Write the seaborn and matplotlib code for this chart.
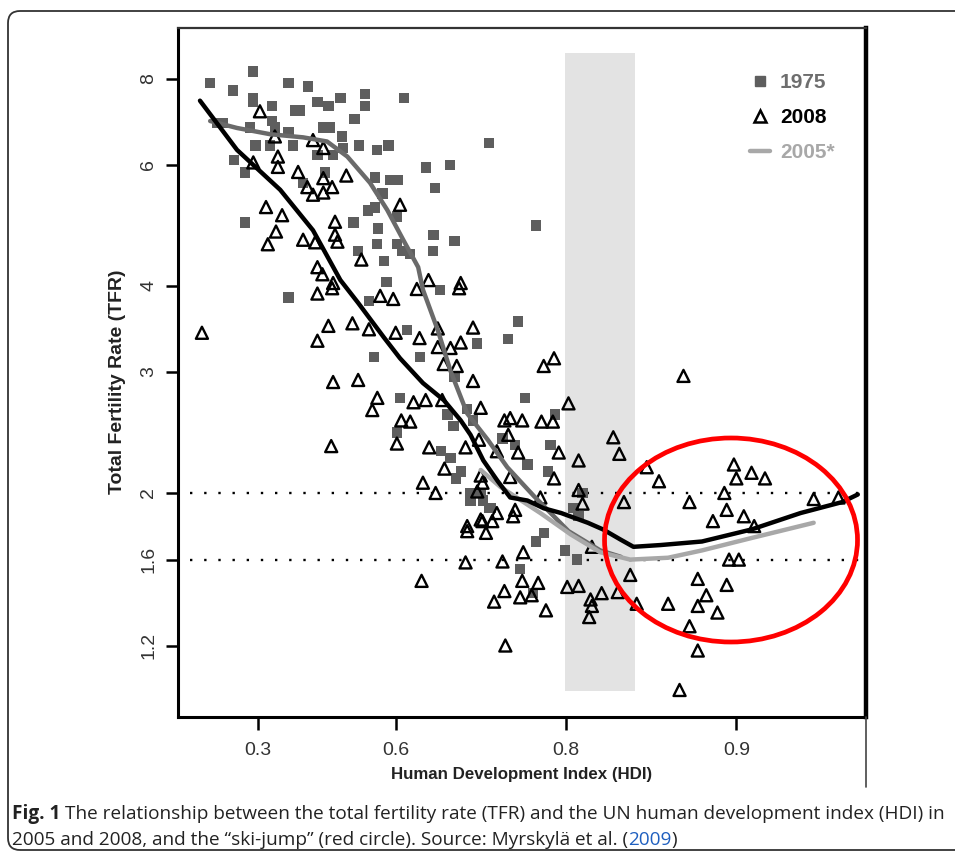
import numpy as np
import matplotlib
matplotlib.use('Agg')
import matplotlib.pyplot as plt
import seaborn as sns
from matplotlib.patches import Ellipse, FancyBboxPatch
from matplotlib.lines import Line2D
from matplotlib.transforms import IdentityTransform
from matplotlib.ticker import NullLocator

# 1975 countries (squares)
hdi_1975 = [0.286, 0.149, 0.225, 0.381, 0.429, 0.286, 0.286, 0.338, 0.450, 0.474,
            0.499, 0.547, 0.547, 0.613, 0.527, 0.398, 0.410, 0.463, 0.478, 0.173,
            0.193, 0.277, 0.338, 0.346, 0.381, 0.503, 0.505, 0.536, 0.569, 0.588,
            0.292, 0.333, 0.393, 0.450, 0.484, 0.228, 0.262, 0.467, 0.417, 0.565,
            0.591, 0.604, 0.578, 0.565, 0.552, 0.602, 0.525, 0.570, 0.262, 0.569,
            0.602, 0.610, 0.623, 0.534, 0.580, 0.585, 0.381, 0.726, 0.646, 0.679,
            0.659, 0.774, 0.657, 0.685, 0.656, 0.666, 0.554, 0.618, 0.563, 0.607,
            0.602, 0.638, 0.757, 0.747, 0.713, 0.685, 0.764, 0.701, 0.676, 0.708,
            0.791, 0.684, 0.787, 0.754, 0.667, 0.680, 0.766, 0.693, 0.741, 0.785,
            0.687, 0.705, 0.717, 0.720, 0.728, 0.806, 0.813, 0.810, 0.705, 0.726,
            0.781, 0.774, 0.799, 0.809, 0.759, 0.771]
tfr_1975 = [8.2, 7.9, 7.7, 7.9, 7.8, 7.5, 7.4, 7.3, 7.4, 7.3,
            7.5, 7.6, 7.3, 7.5, 7.0, 7.2, 7.2, 6.8, 6.8, 6.9,
            6.9, 6.8, 6.95, 6.8, 6.7, 6.6, 6.35, 6.4, 6.3, 6.4,
            6.4, 6.4, 6.4, 6.2, 6.2, 6.1, 5.85, 5.85, 5.65, 5.75,
            5.7, 5.7, 5.45, 5.2, 5.15, 5.05, 4.95, 4.85, 4.95, 4.6,
            4.6, 4.5, 4.45, 4.5, 4.35, 4.05, 3.85, 6.45, 5.95, 6.0,
            5.55, 4.9, 4.75, 4.65, 4.5, 3.95, 3.8, 3.45, 3.15, 2.75,
            2.45, 3.15, 3.55, 3.35, 3.3, 2.95, 2.75, 2.65, 2.6, 2.55,
            2.6, 2.5, 2.35, 2.35, 2.3, 2.25, 2.2, 2.15, 2.4, 2.15,
            2.1, 2.0, 2.0, 1.95, 1.9, 1.9, 2.0, 1.85, 1.95, 1.9,
            1.75, 1.7, 1.65, 1.6, 1.55, 1.43]

# 2008 countries (triangles)
hdi_2008 = [0.305, 0.346, 0.440, 0.463, 0.354, 0.286, 0.354, 0.405, 0.463, 0.511,
            0.427, 0.482, 0.440, 0.463, 0.607, 0.322, 0.365, 0.488, 0.349, 0.417,
            0.445, 0.488, 0.493, 0.327, 0.540, 0.450, 0.461, 0.484, 0.482, 0.450,
            0.574, 0.596, 0.633, 0.120, 0.474, 0.523, 0.554, 0.600, 0.450, 0.637,
            0.484, 0.534, 0.569, 0.560, 0.628, 0.609, 0.623, 0.480, 0.602, 0.650,
            0.691, 0.693, 0.663, 0.708, 0.663, 0.680, 0.693, 0.671, 0.688, 0.708,
            0.781, 0.790, 0.646, 0.669, 0.717, 0.802, 0.743, 0.749, 0.761, 0.779,
            0.789, 0.747, 0.651, 0.699, 0.715, 0.835, 0.757, 0.794, 0.810, 0.839,
            0.735, 0.672, 0.717, 0.749, 0.642, 0.660, 0.790, 0.713, 0.719, 0.810,
            0.813, 0.842, 0.778, 0.735, 0.754, 0.717, 0.730, 0.701, 0.719, 0.752,
            0.701, 0.723, 0.762, 0.820, 0.699, 0.741, 0.761, 0.776, 0.640, 0.743,
            0.770, 0.732, 0.759, 0.783, 0.801, 0.810, 0.819, 0.820, 0.818, 0.827,
            0.838, 0.846, 0.850, 0.744, 0.876, 0.856, 0.863, 0.879, 0.895, 0.899,
            0.900, 0.906, 0.911, 0.896, 0.903, 0.890, 0.907, 0.927, 0.934, 0.897,
            0.901, 0.883, 0.896, 0.868, 0.883, 0.887, 0.892, 0.879, 0.883, 0.874]
tfr_2008 = [7.18, 6.60, 6.52, 6.35, 6.17, 6.05, 5.96, 5.86, 5.74, 5.79,
            5.57, 5.57, 5.43, 5.47, 5.25, 5.21, 5.07, 4.96, 4.80, 4.67,
            4.63, 4.75, 4.64, 4.60, 4.37, 4.26, 4.16, 4.04, 3.97, 3.90,
            3.87, 3.83, 3.96, 3.42, 3.50, 3.53, 3.46, 3.42, 3.33, 3.36,
            2.90, 2.92, 2.75, 2.64, 2.71, 2.55, 2.54, 2.34, 2.36, 4.08,
            3.97, 4.04, 3.47, 3.48, 3.26, 3.25, 3.31, 3.08, 3.06, 2.91,
            3.06, 3.14, 2.73, 2.73, 2.66, 2.70, 2.55, 2.57, 2.55, 2.54,
            2.54, 2.43, 2.33, 2.33, 2.39, 2.41, 2.29, 2.29, 2.23, 2.28,
            2.30, 2.17, 2.12, 2.11, 2.07, 2.00, 2.10, 2.01, 2.07, 2.02,
            1.93, 1.94, 1.97, 1.87, 1.89, 1.83, 1.82, 1.79, 1.82, 1.85,
            1.76, 1.75, 1.64, 1.67, 1.585, 1.59, 1.49, 1.48, 1.49, 1.44,
            1.42, 1.39, 1.41, 1.35, 1.46, 1.465, 1.40, 1.37, 1.32, 1.43,
            1.435, 1.52, 1.38, 1.20, 2.96, 2.18, 2.08, 1.94, 2.00, 2.20,
            2.10, 2.14, 2.10, 1.89, 1.85, 1.82, 1.79, 1.96, 1.97, 1.60,
            1.60, 1.50, 1.47, 1.38, 1.37, 1.42, 1.34, 1.28, 1.18, 1.034]

# smoothed curves
fit_hdi_2008 = [0.113, 0.237, 0.360, 0.440, 0.499, 0.534, 0.580, 0.607, 0.642, 0.671,
                0.693, 0.705, 0.720, 0.736, 0.749, 0.766, 0.781, 0.796, 0.817, 0.828,
                0.840, 0.848, 0.864, 0.885, 0.906, 0.923, 0.935, 0.939]
fit_tfr_2008 = [7.44, 6.31, 5.52, 4.82, 4.08, 3.78, 3.37, 3.14, 2.89, 2.73,
                2.55, 2.43, 2.23, 2.08, 1.97, 1.95, 1.90, 1.87, 1.81, 1.77,
                1.71, 1.67, 1.68, 1.70, 1.77, 1.87, 1.94, 1.99]
fit_hdi_1975 = [0.149, 0.237, 0.333, 0.417, 0.471, 0.513, 0.556, 0.586, 0.612, 0.635,
                0.642, 0.663, 0.680, 0.701, 0.725, 0.746, 0.772, 0.802, 0.826, 0.840]
fit_tfr_1975 = [6.95, 6.79, 6.65, 6.58, 6.49, 6.17, 5.65, 5.16, 4.67, 4.26,
                3.95, 3.45, 3.01, 2.61, 2.39, 2.18, 1.98, 1.76, 1.65, 1.615]
fit_hdi_2005 = [0.717, 0.739, 0.778, 0.804, 0.826, 0.846, 0.868, 0.885, 0.906, 0.927]
fit_tfr_2005 = [2.16, 2.04, 1.87, 1.74, 1.64, 1.60, 1.61, 1.65, 1.72, 1.81]

y_ticks = [1.2, 1.6, 2, 3, 4, 6, 8]
y_tick_labels = ['1.2', '1.6', '2', '3', '4', '6', '8']
x_ticks = [0.3, 0.6, 0.8, 0.9]
x_tick_labels = ['0.3', '0.6', '0.8', '0.9']

sns.set_style('ticks')
plt.rcParams['font.family'] = ['Liberation Sans', 'DejaVu Sans']

W, H = 955, 857
fig = plt.figure(figsize=(W / 100, H / 100), dpi=100)
ax = fig.add_axes([178 / W, 1 - 717 / H, 688 / W, 689 / H])


def fwd(h):
    return -np.log(1 - np.clip(h, -10, 0.9999))


def inv(t):
    return 1 - np.exp(-t)


ax.set_xscale('function', functions=(fwd, inv))
ax.set_yscale('log')
ax.set_xlim(0.030, 0.941)
ax.set_ylim(0.9445, 9.49)

ax.axvspan(0.799, 0.849, ymin=0.038, ymax=0.964, color='#e3e3e3', lw=0, zorder=0)
for lvl in [2, 1.6]:
    ax.axhline(lvl, xmin=0.017, xmax=0.995, color='black', lw=1.7,
               ls=(0, (1, 5)), zorder=1)

sns.scatterplot(x=hdi_1975, y=tfr_1975, marker='s', s=55, color='#5e5e5e',
                edgecolor='none', ax=ax, zorder=3)
sns.scatterplot(x=hdi_2008, y=tfr_2008, marker='^', s=75, facecolor='none',
                edgecolor='black', linewidth=1.7, ax=ax, zorder=4)

sns.lineplot(x=fit_hdi_1975, y=fit_tfr_1975, sort=False, estimator=None,
             color='#6a6a6a', lw=3.2, ax=ax, zorder=5)
sns.lineplot(x=fit_hdi_2005, y=fit_tfr_2005, sort=False, estimator=None,
             color='#a8a8a8', lw=3.2, ax=ax, zorder=5)
sns.lineplot(x=fit_hdi_2008, y=fit_tfr_2008, sort=False, estimator=None,
             color='black', lw=3.2, ax=ax, zorder=6)

ax.add_patch(Ellipse((0.8038, 0.2569), 0.3677, 0.2961, transform=ax.transAxes,
                     fill=False, ec='#ff0000', lw=3.4, zorder=7))

ax.set_xticks(x_ticks)
ax.set_xticklabels(x_tick_labels, fontsize=14, color='#333333')
ax.set_yticks(y_ticks)
ax.set_yticklabels(y_tick_labels, fontsize=14, color='#333333', rotation=90, va='center')
ax.xaxis.set_minor_locator(NullLocator())
ax.yaxis.set_minor_locator(NullLocator())
ax.tick_params(axis='both', length=9, width=1.8, color='black', pad=6)
ax.tick_params(axis='x', pad=9)

ax.set_xlabel('Human Development Index (HDI)', fontsize=12.2, fontweight='bold',
              color='#222222')
ax.xaxis.set_label_coords(0.5, (717 - 775) / 689, transform=ax.transAxes)
ax.xaxis.label.set_va('center')
ax.set_ylabel('Total Fertility Rate (TFR)', fontsize=14, fontweight='bold',
              color='#222222')
ax.yaxis.set_label_coords((118 - 178) / 688, (717 - 382) / 689, transform=ax.transAxes)
ax.yaxis.label.set_va('center')

for side, w, c in [('left', 2.2, 'black'), ('bottom', 2.2, 'black'),
                   ('top', 1.6, '#333333'), ('right', 3.2, 'black')]:
    ax.spines[side].set_visible(True)
    ax.spines[side].set_linewidth(w)
    ax.spines[side].set_color(c)

handles = [Line2D([], [], marker='s', ls='none', color='#5e5e5e', markersize=7),
           Line2D([], [], marker='^', ls='none', mfc='none', mec='black', mew=1.8,
                  markersize=8.5),
           Line2D([], [], color='#a8a8a8', lw=3.2)]
ax.legend(handles, ['1975', '2008', '2005*'], loc='upper left',
          bbox_to_anchor=((750 - 178) / 688, (717 - 73) / 689), frameon=False,
          prop={'weight': 'bold', 'size': 15}, labelcolor=['#6e6e6e', 'black', '#a8a8a8'],
          handlelength=0.96, handletextpad=0.48, labelspacing=0.78,
          borderpad=0, borderaxespad=0)

# page frame around figure and caption
fig.add_artist(FancyBboxPatch((8, 7), 1000, 839, boxstyle='round,pad=0,rounding_size=12',
                              transform=IdentityTransform(), fill=False,
                              ec='#333333', lw=1.3))
fig.add_artist(Line2D([866 / W, 866 / W], [1 - 717 / H, 1 - 787 / H],
                      color='#444444', lw=1.2))

renderer = fig.canvas.get_renderer()
line1 = ('The relationship between the total fertility rate (TFR) and the UN '
         'human development index (HDI) in')
probe = fig.text(0, 0, 'Fig. 1 ' + line1, family='Open Sans', fontsize=15)
cap_size = 15 * 930 / probe.get_window_extent(renderer=renderer).width
probe.remove()


def caption_line(parts, y_px):
    x = 12
    for txt, kw, gap in parts:
        style = {'color': '#222222'}
        style.update(kw)
        t = fig.text(x / W, 1 - y_px / H, txt, va='baseline', ha='left',
                     family='Open Sans', fontsize=cap_size, **style)
        bb = t.get_window_extent(renderer=renderer)
        x = bb.x1 + gap


caption_line([('Fig. 1', {'fontweight': 'bold'}, 5), (line1, {}, 0)], 819)
caption_line([('2005 and 2008, and the \u201cski-jump\u201d (red circle). Source: '
               'Myrskyl\u00e4 et al. (', {}, 0),
              ('2009', {'color': '#1f5fbf'}, 0),
              (')', {}, 0)], 845)

plt.savefig('out.png', dpi=100)
